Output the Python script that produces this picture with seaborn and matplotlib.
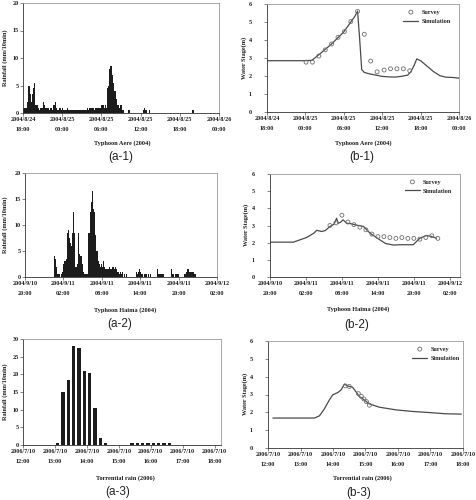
import matplotlib
matplotlib.use("Agg")
import matplotlib.pyplot as plt
import numpy as np
import pandas as pd
import seaborn as sns

W, H = 477, 500

# ---- rainfall, mm per 10 min, one value per 10-min step from the first tick ----
rain_aere = [
    1, 1, 1, 1, 2, 5, 3.5, 2, 3.5, 4.5, 5.5, 1.5, 1.5, 1.5, 1, 0.5, 1, 1, 2, 1.5,
    1, 1, 1, 1, 0.5, 1, 1, 0.5, 1.5, 2, 1, 0.5, 0.5, 1, 1, 0.5, 1, 0.5, 0.5, 0.5,
    1, 0.5, 0.5, 0.5, 0.5, 0.5, 0.5, 0.5, 0.5, 0.5, 0.5, 0.5, 0.5, 0.5, 0.5, 0.5, 0.5, 0.5, 0.5, 1,
    0.5, 1, 1, 1, 1, 0.5, 1, 1, 1, 1, 1, 1, 1.5, 1.5, 1, 1.5, 1, 4.5, 5, 8,
    8.5, 8.5, 7, 5.5, 4, 2.5, 1.5, 1.5, 1, 1.5, 1.5, 0.5, 0.5, 0, 0, 0, 0.5, 0.5, 0, 0,
    0, 0, 0, 0, 0, 0, 0, 0, 0, 0, 0.5, 1, 0.5, 0.5, 0, 0, 0.5, 0, 0, 0,
    0, 0, 0, 0, 0, 0, 0, 0, 0, 0, 0, 0, 0, 0, 0, 0, 0, 0, 0, 0,
    0, 0, 0, 0, 0, 0, 0, 0, 0, 0, 0, 0, 0, 0, 0, 0.5, 0.5, 0, 0, 0,
    0, 0, 0, 0, 0, 0, 0, 0, 0, 0, 0, 0, 0, 0, 0, 0, 0, 0, 0, 0,
]
rain_haima = [
    0, 0, 0, 0, 0, 0, 0, 0, 0, 0, 0, 0, 0, 0, 0, 0, 0, 0, 0, 0,
    0, 0, 0, 0, 0, 0, 0, 4, 3.5, 2, 0.5, 0.5, 0.5, 0, 0.5, 1, 2.5, 3, 3.5, 8.5,
    9, 7.5, 6.5, 6, 8.5, 12.5, 8.5, 2, 2, 2.5, 8.5, 4.5, 4, 2.5, 1, 0.5, 0.5, 0.5, 0.5, 8.5,
    8.5, 12.5, 14.5, 16.5, 13, 12.5, 8, 5, 3, 2.5, 2, 2.5, 2, 3, 2, 1.5, 1.5, 1.5, 1.5, 2,
    1.5, 1.5, 2, 1.5, 2, 1.5, 1, 1, 0.5, 1, 0.5, 1, 0, 0.5, 0, 0.5, 0, 0, 0, 0,
    0, 0, 0, 0, 1, 0.5, 1, 1.5, 1, 0.5, 0.5, 0, 0.5, 0.5, 0, 0.5, 0, 0.5, 0, 0,
    0, 0, 0, 0, 1.5, 0.5, 0.5, 0.5, 0.5, 0.5, 0, 0, 0, 0, 0, 0, 0, 1.5, 0.5, 0.5,
    0, 0.5, 0.5, 0.5, 0, 0, 0, 0, 0, 0.5, 0.5, 1, 1.5, 1.5, 1, 1, 1, 1, 0.5, 0.5,
    0, 0, 0, 0, 0, 0, 0, 0, 0, 0, 0, 0, 0, 0, 0, 0, 0, 0, 0, 0,
]
rain_torrential = [
    0, 0, 0, 0, 0, 0, 0.5, 15, 18.5, 28, 27.5, 21, 20.5, 10.5, 2, 0.5, 0, 0,
    0, 0, 0.5, 0.5, 0.5, 0.5, 0.5, 0.5, 0.5, 0.5, 0, 0, 0, 0, 0, 0, 0, 0,
]

# ---- water stage (m); times in hours after the first tick ----
sim_aere_h = [0, 3, 6, 7, 8, 9, 10, 11, 12, 13, 13.7, 14.15, 14.45, 14.8, 15.2, 16,
              17, 18, 19, 20, 21, 22, 22.5, 23, 23.4, 24, 25, 26, 27, 28, 29, 30]
sim_aere_v = [2.85, 2.85, 2.85, 2.87, 3.15, 3.45, 3.75, 4.1, 4.45, 4.95, 5.3, 5.6, 4.2,
              2.35, 2.2, 2.12, 2.05, 1.98, 1.95, 1.94, 1.98, 2.05, 2.25, 2.6, 2.95,
              2.85, 2.55, 2.25, 2.02, 1.93, 1.92, 1.88]
svy_aere_h = [6.1, 7.1, 8.1, 9.1, 10.1, 11.1, 12.1, 13.1, 14.15, 15.2, 16.2, 17.2,
              18.3, 19.3, 20.3, 21.3, 22.3]
svy_aere_v = [2.77, 2.77, 3.11, 3.45, 3.78, 4.15, 4.47, 5.03, 5.59, 4.32, 2.83, 2.23,
              2.33, 2.40, 2.40, 2.40, 2.29]

sim_haima_h = [0, 3.9, 6.1, 7.3, 7.8, 8.6, 9.2, 10.0, 10.7, 11.1, 11.4, 11.8, 12.2,
               12.8, 13.3, 14.2, 15.6, 16.7, 18.3, 19.3, 20.6, 21.7, 23.9, 25.0, 26.1,
               26.9, 27.8]
sim_haima_v = [2.03, 2.03, 2.3, 2.55, 2.72, 2.65, 2.7, 2.94, 3.08, 3.42, 3.13, 3.2,
               3.33, 3.13, 3.12, 3.04, 2.94, 2.55, 2.17, 1.95, 1.86, 1.88, 1.88, 2.26,
               2.42, 2.36, 2.26]
svy_haima_h = [10, 11, 12, 13, 14, 15, 16, 17, 18, 19, 20, 21, 22, 23, 24, 25, 26, 27, 28]
svy_haima_v = [3.0, 3.15, 3.6, 3.2, 3.05, 2.9, 2.75, 2.5, 2.35, 2.35, 2.3, 2.25, 2.3,
               2.25, 2.25, 2.2, 2.3, 2.4, 2.25]

sim_torr_h = [0.15, 1.43, 1.58, 1.73, 1.89, 1.99, 2.15, 2.25, 2.35, 2.45, 2.6, 2.7,
              2.81, 2.96, 3.11, 3.42, 3.93, 4.44, 4.95, 5.46, 5.95]
sim_torr_v = [1.68, 1.68, 1.8, 2.18, 2.7, 2.98, 3.11, 3.26, 3.58, 3.48, 3.41, 3.17,
              2.89, 2.7, 2.48, 2.29, 2.14, 2.05, 1.99, 1.92, 1.9]
svy_torr_h = [2.38, 2.5, 2.78, 2.87, 2.95, 3.03, 3.12]
svy_torr_v = [3.48, 3.45, 3.05, 2.9, 2.75, 2.6, 2.4]

ticks_aere = ["2004/8/24\n18:00", "2004/8/25\n00:00", "2004/8/25\n06:00",
              "2004/8/25\n12:00", "2004/8/25\n18:00", "2004/8/26\n00:00"]
ticks_haima = ["2004/9/10\n20:00", "2004/9/11\n02:00", "2004/9/11\n08:00",
               "2004/9/11\n14:00", "2004/9/11\n20:00", "2004/9/12\n02:00"]
ticks_torr = ["2006/7/10\n12:00", "2006/7/10\n13:00", "2006/7/10\n14:00",
              "2006/7/10\n15:00", "2006/7/10\n16:00", "2006/7/10\n17:00",
              "2006/7/10\n18:00"]

BAR = "#1c1c1c"
LINE = "#4a4a4a"

sns.set_theme(style="white")
plt.rcParams["font.family"] = ["Liberation Serif", "DejaVu Serif"]
plt.rcParams["font.weight"] = "bold"

fig = plt.figure(figsize=(W / 100, H / 100), dpi=100)


def box(x0, y0, x1, y1):
    return [x0 / W, 1 - y1 / H, (x1 - x0) / W, (y1 - y0) / H]


def ftext(x, y, s, **kw):
    fig.text(x / W, 1 - y / H, s, ha="center", va="center", **kw)


def style(ax, xmax, xstep, labels, ymax, ystep):
    ax.set_xlim(0, xmax)
    ax.set_ylim(0, ymax)
    ax.set_xticks(np.arange(len(labels)) * xstep)
    ax.set_xticklabels(labels, linespacing=2.1)
    ax.set_yticks(np.arange(0, ymax + 0.1, ystep))
    ax.set_xlabel("")
    ax.set_ylabel("")
    ax.tick_params(axis="both", labelsize=4.4, length=2, width=0.5, color="#555555",
                   direction="out", bottom=True, left=True, labelcolor="#1e1e1e")
    ax.tick_params(axis="x", pad=1.2)
    for s in ["left", "bottom"]:
        ax.spines[s].set_color("#333333")
        ax.spines[s].set_linewidth(0.6)
    for s in ["top", "right"]:
        ax.spines[s].set_color("#9a9a9a")
        ax.spines[s].set_linewidth(0.6)


def rain_panel(rect, values, xmax, labels, ymax, shrink):
    ax = fig.add_axes(rect)
    n = len(values)
    df = pd.DataFrame({"t": (np.arange(n) + 0.5) / 6, "rain": values})
    sns.histplot(data=df, x="t", weights="rain", binwidth=1 / 6, binrange=(0, n / 6),
                 shrink=shrink, color=BAR, alpha=1, linewidth=0, ax=ax)
    style(ax, xmax, 6 if xmax > 10 else 1, labels, ymax, 5)
    ax.yaxis.set_tick_params(which="major", pad=1.0)
    return ax


def stage_panel(rect, sim_h, sim_v, svy_h, svy_v, xmax, xstep, labels, anchor):
    ax = fig.add_axes(rect)
    sns.scatterplot(x=svy_h, y=svy_v, ax=ax, marker="o", s=8, color="none",
                    edgecolor="#6e6e6e", linewidth=0.6, label="Survey", zorder=3)
    ax.collections[-1].set_facecolor("none")
    sns.lineplot(x=sim_h, y=sim_v, ax=ax, color=LINE, linewidth=0.9,
                 label="Simulation", sort=False)
    style(ax, xmax, xstep, labels, 6, 1)
    h, l = ax.get_legend_handles_labels()
    order = [l.index("Survey"), l.index("Simulation")]
    ax.legend([h[i] for i in order], [l[i] for i in order], loc="upper left",
              bbox_to_anchor=anchor, frameon=False, fontsize=4.5, handlelength=2.4,
              handletextpad=0.5, labelspacing=0.6, borderaxespad=0, borderpad=0)
    # the stage axes keep their numbers well clear of the frame
    ax.yaxis.set_tick_params(which="major", pad=9.0)
    return ax


rain_panel(box(23, 3, 219, 113), rain_aere, 30, ticks_aere, 20, 1)
rain_panel(box(25, 173, 217, 277), rain_haima, 30, ticks_haima, 20, 1)
rain_panel(box(23, 339, 221, 445), rain_torrential, 6.2, ticks_torr, 30, 0.62)

stage_panel(box(267, 4, 459, 112), sim_aere_h, sim_aere_v, svy_aere_h, svy_aere_v,
            30, 6, ticks_aere, (0.71, 0.95))
stage_panel(box(270, 174, 460, 277), sim_haima_h, sim_haima_v, svy_haima_h,
            svy_haima_v, 31.7, 6, ticks_haima, (0.71, 0.95))
stage_panel(box(268, 341, 463, 448), sim_torr_h, sim_torr_v, svy_torr_h, svy_torr_v,
            6, 1, ticks_torr, (0.74, 0.95))

# axis titles
for y in [58, 225]:
    ftext(5, y, "Rainfall (mm/10min)", rotation=90, fontsize=4.5, color="#1e1e1e")
ftext(5, 392, "Rainfall (mm/10min)", rotation=90, fontsize=4.5, color="#1e1e1e")
ftext(244, 58, "Water Stage(m)", rotation=90, fontsize=4.5, color="#1e1e1e")
ftext(246, 225, "Water Stage(m)", rotation=90, fontsize=4.5, color="#1e1e1e")
ftext(245, 394, "Water Stage(m)", rotation=90, fontsize=4.5, color="#1e1e1e")

ftext(122, 143, "Typhoon Aere (2004)", fontsize=4.6, color="#1e1e1e")
ftext(363, 143, "Typhoon Aere (2004)", fontsize=4.6, color="#1e1e1e")
ftext(125, 310, "Typhoon Haima (2004)", fontsize=4.6, color="#1e1e1e")
ftext(358, 309, "Typhoon Haima (2004)", fontsize=4.6, color="#1e1e1e")
ftext(125, 478, "Torrential rain (2006)", fontsize=4.6, color="#1e1e1e")
ftext(362, 478, "Torrential rain (2006)", fontsize=4.6, color="#1e1e1e")

# panel tags
tag_kw = dict(fontsize=8.5, fontweight="normal", color="#222222",
              family=["Liberation Sans", "DejaVu Sans"])
ftext(121, 157, "(a-1)", **tag_kw)
ftext(362, 157, "(b-1)", **tag_kw)
ftext(120, 324, "(a-2)", **tag_kw)
ftext(357, 325, "(b-2)", **tag_kw)
ftext(118, 492, "(a-3)", **tag_kw)
ftext(359, 493, "(b-3)", **tag_kw)

fig.savefig("out.png", dpi=100)
